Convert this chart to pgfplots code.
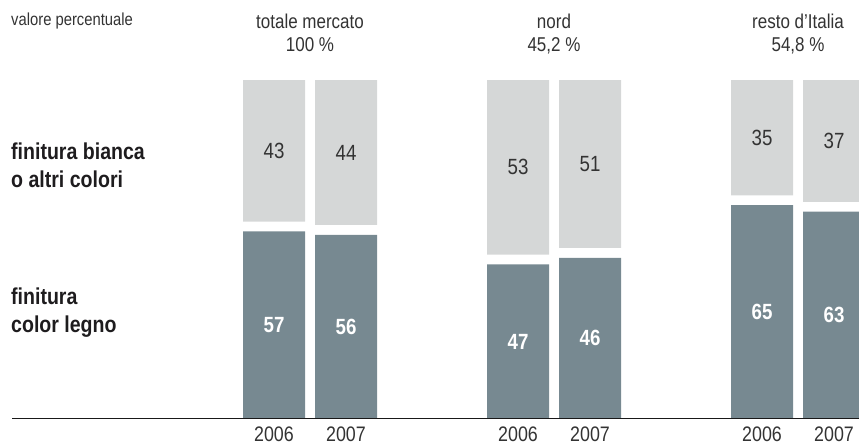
\documentclass[border=0pt]{standalone}
\usepackage{fontspec}
\setmainfont{Liberation Sans}[FakeStretch=0.85]
\usepackage{pgfplots}
\pgfplotsset{compat=1.18}
\definecolor{darkbar}{RGB}{119,137,145}
\definecolor{lightbar}{RGB}{213,215,215}
\definecolor{txt}{RGB}{51,51,51}
\definecolor{boldtxt}{RGB}{30,28,30}
\pgfplotsset{base/.style={at={(0,0)}, anchor=south west, scale only axis,
  width=859pt, height=444pt, xmin=0, xmax=859, ymin=-7.6, ymax=127.36, hide axis}}
\begin{document}
\begin{tikzpicture}[x=1pt,y=1pt]
\begin{axis}[base, name=ax, ybar stacked, bar width=62pt]
% drawn heights as in the original graphic (nord 2007 bar drawn taller than its label)
\addplot[fill=darkbar, draw=none] coordinates {(274,57) (346,56) (518,47) (590,49) (762,65) (834,63)};
\addplot[fill=none, draw=none] coordinates {(274,3) (346,3) (518,3) (590,3) (762,3) (834,3)};
\addplot[fill=lightbar, draw=none] coordinates {(274,43) (346,44) (518,53) (590,51) (762,35) (834,37)};
\end{axis}
\begin{axis}[base]
\addplot[draw=none, mark=none, nodes near coords, point meta=explicit symbolic,
  nodes near coords style={white, font=\bfseries\fontsize{22}{22}\selectfont, anchor=center}]
  table[meta=label] {
x y label
274 28.5 57
346 28 56
518 23.5 47
590 24.5 46
762 32.5 65
834 31.5 63
};
\addplot[draw=none, mark=none, nodes near coords, point meta=explicit symbolic,
  nodes near coords style={txt, font=\fontsize{22}{22}\selectfont, anchor=center}]
  table[meta=label] {
x y label
274 81.5 43
346 81 44
518 76.5 53
590 77.5 51
762 85.5 35
834 84.5 37
};
\draw[black!90, line width=0.8pt] (axis cs:12,0.25) -- (axis cs:859,0.25);
\end{axis}
% header texts
\node[anchor=base west, txt, font=\fontsize{17.4}{17.4}\selectfont, inner sep=0pt] at (11,418) {valore percentuale};
\foreach \xc/\ta/\tb in {310/totale mercato/100 \%, 554/nord/{45,2 \%}, 798/resto d’Italia/{54,8 \%}}{
  \node[anchor=base, txt, font=\fontsize{20}{20}\selectfont, inner sep=0pt] at (\xc,415.7) {\ta};
  \node[anchor=base, txt, font=\fontsize{20}{20}\selectfont, inner sep=0pt] at (\xc,392.3) {\tb};
}
% left labels
\node[anchor=base west, boldtxt, font=\bfseries\fontsize{23}{23}\selectfont, inner sep=0pt] at (11,284) {finitura bianca};
\node[anchor=base west, boldtxt, font=\bfseries\fontsize{23}{23}\selectfont, inner sep=0pt] at (11,256) {o altri colori};
\node[anchor=base west, boldtxt, font=\bfseries\fontsize{23}{23}\selectfont, inner sep=0pt] at (11,139) {finitura};
\node[anchor=base west, boldtxt, font=\bfseries\fontsize{23}{23}\selectfont, inner sep=0pt] at (11,111) {color legno};
% years
\foreach \xc/\yr in {274/2006, 346/2007, 518/2006, 590/2007, 762/2006, 834/2007}{
  \node[anchor=base, txt, font=\fontsize{21}{21}\selectfont, inner sep=0pt] at (\xc,2.8) {\yr};
}
\pgfresetboundingbox
\path[use as bounding box] (0,0) rectangle (859,444);
\end{tikzpicture}
\end{document}
